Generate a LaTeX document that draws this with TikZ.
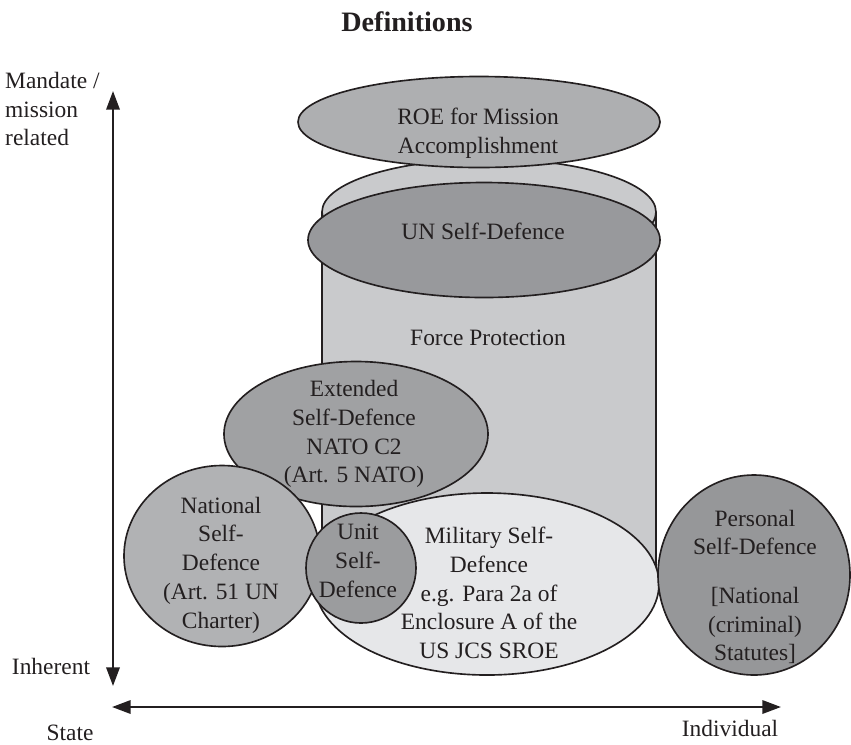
\documentclass[tikz,border=0pt]{standalone}
\usepackage{fontspec}
\setmainfont{Liberation Serif}
\usepackage{xcolor}
\usepackage{tikz}
\usetikzlibrary{positioning, arrows.meta, shapes.geometric}
\definecolor{ink}{RGB}{35,31,32}
\definecolor{cylfill}{RGB}{201,202,204}
\definecolor{roefill}{RGB}{174,175,177}
\definecolor{unfill}{RGB}{152,153,156}
\definecolor{extfill}{RGB}{160,161,163}
\definecolor{natfill}{RGB}{177,178,180}
\definecolor{unitfill}{RGB}{155,156,158}
\definecolor{milfill}{RGB}{230,231,233}
\definecolor{persfill}{RGB}{150,151,153}

\begin{document}
\begin{tikzpicture}[x=0.03cm, y=-0.03cm,
    blob/.style={draw=ink, ellipse, line width=1.4pt, inner sep=0pt},
    lbl/.style={align=center, text=ink, inner sep=0pt, font=\fontsize{20}{24.5}\selectfont},
    axis/.style={draw=ink, line width=2pt, {Triangle[length=0.56cm, width=0.4cm]}-{Triangle[length=0.56cm, width=0.4cm]}}]
    \useasboundingbox (0,0) rectangle (851,744);

    \node [lbl, font=\fontsize{24}{28}\selectfont\bfseries] (title) at (407,22) {Definitions};

    % cylinder
    \fill [cylfill] (322,212) rectangle (656,590);
    \draw [ink, line width=1.4pt] (322,212) -- (322,590) (656,212) -- (656,590);
    \node [blob, fill=cylfill, minimum width=10.02cm, minimum height=3.18cm] (cyltop) at (489,212) {};

    \node [blob, fill=roefill, minimum width=10.86cm, minimum height=2.73cm] (roe) at (479,122) {};
    \node [lbl] (roe-t) at (478,133) {ROE for Mission\\Accomplishment};

    \node [blob, fill=unfill, minimum width=10.56cm, minimum height=3.45cm] (un) at (484,240) {};
    \node [lbl] (un-t) at (483,231) {UN Self-Defence};

    \node [lbl] (fp-t) at (488,338) {Force Protection};

    \node [blob, fill=extfill, minimum width=7.92cm, minimum height=4.35cm] (ext) at (356,434) {};
    \node [lbl] (ext-t) at (354,434) {Extended\\Self-Defence\\NATO C2\\(Art. 5 NATO)};

    \node [blob, fill=milfill, minimum width=10.32cm, minimum height=5.46cm] (mil) at (487,584) {};
    \node [lbl] (mil-t) at (489,593) {Military Self-\\Defence\\e.g. Para 2a of\\Enclosure A of the\\US JCS SROE};

    \node [blob, fill=natfill, minimum width=5.88cm, minimum height=5.43cm] (nat) at (222,556) {};
    \node [lbl] (nat-t) at (221,565) {National\\Self-\\Defence\\(Art. 51 UN\\Charter)};

    \node [blob, fill=unitfill, minimum width=3.3cm, minimum height=3.3cm] (unit) at (361,568) {};
    \node [lbl] (unit-t) at (358,561) {Unit\\Self-\\Defence};

    \node [blob, fill=persfill, minimum width=5.76cm, minimum height=6cm] (pers) at (754,575) {};
    \node [lbl] (pers-t) at (755,587) {Personal\\Self-Defence\\[17pt]{[}National\\(criminal)\\Statutes]};

    % axes
    \coordinate (vhi) at (113,91);
    \coordinate (vlo) at (113,686);
    \coordinate (hlo) at (112,707);
    \coordinate (hhi) at (781,707);
    \draw [axis] (vlo) -- (vhi);
    \draw [axis] (hlo) -- (hhi);

    \node [lbl, align=left, anchor=west] (mand) at (5,109) {Mandate /\\mission\\related};
    \node [lbl] (inh) at (51,666) {Inherent};
    \node [lbl] (state) at (70,733) {State};
    \node [lbl] (indiv) at (730,728) {Individual};
\end{tikzpicture}
\end{document}
